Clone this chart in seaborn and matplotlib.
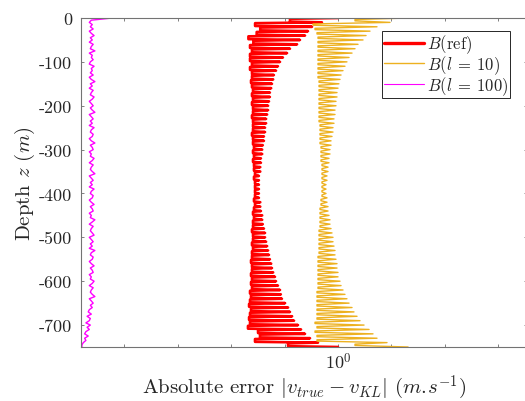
import numpy as np
import matplotlib
matplotlib.use('Agg')
import matplotlib.pyplot as plt
import seaborn as sns
from matplotlib.ticker import FixedLocator, FuncFormatter, NullLocator

# right-side turning points of the oscillation (one per 10 m), m/s
ref_hi = [1.0, 0.50, 0.326, 0.274, 0.241, 0.194, 0.171, 0.126, 0.111, 0.093,
          0.082, 0.075, 0.069, 0.063, 0.061, 0.058, 0.056, 0.053, 0.053, 0.051,
          0.049, 0.049, 0.047, 0.045, 0.045, 0.043, 0.043, 0.041, 0.041, 0.039,
          0.038, 0.038, 0.036, 0.036, 0.035, 0.035, 0.033, 0.033, 0.033, 0.033,
          0.033, 0.033, 0.035, 0.035, 0.036, 0.038, 0.038, 0.039, 0.041, 0.043,
          0.043, 0.045, 0.047, 0.049, 0.051, 0.053, 0.056, 0.058, 0.061, 0.066,
          0.069, 0.075, 0.082, 0.085, 0.089, 0.102, 0.116, 0.126, 0.138, 0.150,
          0.178, 0.203, 0.241, 0.299, 0.422, 1.0]
# left-side values between two peaks, m/s
ref_lo = [0.126, 0.028, 0.035, 0.030, 0.021, 0.026, 0.0225, 0.0245, 0.0225, 0.0225,
          0.0245, 0.0225, 0.0245, 0.0245, 0.0235, 0.0245, 0.0256, 0.0245, 0.0256, 0.0245,
          0.0256, 0.0256, 0.0245, 0.0256, 0.0256, 0.0256, 0.0245, 0.0256, 0.0256, 0.0267,
          0.0256, 0.0267, 0.0256, 0.0267, 0.0267, 0.0279, 0.0267, 0.0279, 0.0279, 0.0279,
          0.0279, 0.0267, 0.0279, 0.0267, 0.0256, 0.0267, 0.0256, 0.0256, 0.0245, 0.0256,
          0.0256, 0.0245, 0.0256, 0.0245, 0.0245, 0.0235, 0.0245, 0.0245, 0.0235, 0.0245,
          0.0235, 0.0245, 0.0225, 0.0235, 0.0225, 0.0216, 0.0235, 0.0225, 0.0216, 0.0225,
          0.0206, 0.0318, 0.0346, 0.0279, 0.116]

l10_hi = [20.5, 9.42, 5.37, 3.97, 3.35, 2.94, 2.37, 2.08, 1.83, 1.61,
          1.47, 1.35, 1.24, 1.14, 1.09, 1.04, 1.00, 0.958, 0.958, 0.917,
          0.917, 0.879, 0.879, 0.841, 0.841, 0.806, 0.806, 0.772, 0.740, 0.740,
          0.708, 0.708, 0.678, 0.678, 0.650, 0.650, 0.622, 0.622, 0.596, 0.596,
          0.596, 0.622, 0.622, 0.650, 0.650, 0.678, 0.708, 0.708, 0.740, 0.772,
          0.806, 0.806, 0.841, 0.879, 0.879, 0.917, 0.958, 0.958, 1.00, 1.00,
          1.09, 1.14, 1.24, 1.35, 1.47, 1.61, 1.83, 1.99, 2.27, 2.58,
          3.07, 3.81, 4.52, 5.37, 8.27, 20.5]
l10_lo = [2.08, 0.340, 0.371, 0.404, 0.422, 0.422, 0.422, 0.422, 0.422, 0.422,
          0.422, 0.422, 0.422, 0.422, 0.441, 0.441, 0.441, 0.441, 0.441, 0.441,
          0.441, 0.441, 0.441, 0.441, 0.460, 0.460, 0.460, 0.460, 0.460, 0.480,
          0.480, 0.480, 0.480, 0.501, 0.501, 0.501, 0.501, 0.501, 0.501, 0.501,
          0.501, 0.480, 0.480, 0.460, 0.460, 0.460, 0.460, 0.460, 0.441, 0.441,
          0.441, 0.441, 0.441, 0.441, 0.422, 0.422, 0.422, 0.422, 0.422, 0.422,
          0.422, 0.422, 0.404, 0.404, 0.404, 0.404, 0.404, 0.404, 0.404, 0.371,
          0.404, 0.371, 0.404, 0.404, 2.08]

# B(l=100) error, in units of 1e-5 m/s, top to bottom
l100_err = [5.9, 2.4, 2.2, 2.5, 2.3, 2.6, 2.2, 2.4, 2.7, 2.3, 2.5, 2.2, 2.6, 2.4, 2.3,
            2.8, 2.2, 2.5, 2.4, 2.6, 2.3, 2.2, 2.7, 2.4, 2.5, 2.3, 2.6, 2.2, 2.4, 2.8,
            2.3, 2.5, 2.2, 2.6, 2.4, 2.3, 2.7, 2.5, 2.2, 2.4, 2.6, 2.3, 2.5, 2.8, 2.2,
            2.4, 2.6, 2.3, 2.5, 2.2, 2.7, 2.4, 2.3, 2.6, 2.5, 2.2, 2.4, 2.8, 2.3, 2.5,
            2.6, 2.2, 2.4, 2.3, 2.7, 2.5, 2.2, 2.6, 2.4, 2.3, 2.5, 2.8, 2.2, 2.4, 2.6,
            2.3, 2.5, 2.2, 2.7, 2.4, 2.3, 2.6, 2.5, 2.2, 2.4, 2.7, 2.3, 2.5, 2.6, 2.2,
            2.4, 2.3, 2.8, 2.5, 2.2, 2.6, 2.4, 2.3, 2.5, 2.7, 2.2, 2.4, 2.6, 2.3, 2.5,
            2.2, 2.8, 2.4, 2.3, 2.6, 2.5, 2.2, 2.4, 2.7, 2.3, 2.5, 2.6, 2.2, 2.4, 2.3,
            2.7, 2.5, 2.2, 2.6, 2.4, 2.3, 2.5, 2.8, 2.2, 2.4, 2.6, 2.3, 2.5, 2.2, 2.1,
            2.4, 2.0, 2.3, 2.2, 1.9, 2.3, 2.0, 2.2, 1.9, 1.8, 2.1, 1.8, 1.9, 1.7, 1.6, 1.6]

depth_top, depth_bottom = 0, -750
ytick_vals = [0, -100, -200, -300, -400, -500, -600, -700]
series_labels = [r'$B(\mathrm{ref})$', r'$B(l\:=\:10)$', r'$B(l\:=\:100)$']


def spikes(hi, lo, half):
    # one excursion to the right per peak, left values in between
    step = (depth_top - depth_bottom) / (len(hi) - 1)
    xs, ds = [], []
    for j, h in enumerate(hi):
        dj = depth_top - j * step
        if j > 0:
            xs.append(lo[j - 1])
            ds.append(dj + half)
        xs.append(h)
        ds.append(dj)
        if j < len(lo):
            xs.append(lo[j])
            ds.append(dj - half)
    return np.array(xs), np.array(ds)


sns.set_style('ticks')
plt.rcParams['font.family'] = 'cmr10'
plt.rcParams['mathtext.fontset'] = 'cm'
plt.rcParams['axes.unicode_minus'] = False
plt.rcParams['axes.formatter.use_mathtext'] = True

fig = plt.figure(figsize=(5.25, 4.02), dpi=100)
ax = fig.add_axes([81/525, 1-348/402, 446/525, 329/402])

x, d = spikes(ref_hi, ref_lo, 1.8)
sns.lineplot(x=x, y=d, sort=False, estimator=None, color=(1, 0, 0), lw=1.9,
             label=series_labels[0], ax=ax)
x, d = spikes(l10_hi, l10_lo, 3.5)
sns.lineplot(x=x, y=d, sort=False, estimator=None, color=(0.929, 0.694, 0.125),
             lw=1.0, label=series_labels[1], ax=ax)
m_err = np.array(l100_err) * 1e-5
m_depth = np.linspace(depth_top, depth_bottom, len(m_err))
sns.lineplot(x=m_err, y=m_depth, sort=False, estimator=None, color=(1, 0, 1),
             lw=1.0, label=series_labels[2], ax=ax)

ax.set_xscale('log')
ax.set_xlim(10**-4.813, 10**3.539)
ax.set_ylim(depth_bottom, depth_top)
ax.xaxis.set_major_locator(FixedLocator(10.0**np.arange(-4, 4)))
ax.xaxis.set_minor_locator(NullLocator())
ax.xaxis.set_major_formatter(FuncFormatter(lambda v, p: r'$10^{0}$' if np.isclose(v, 1) else ''))
ax.set_yticks(ytick_vals)
ax.set_yticklabels([str(t) for t in ytick_vals])

ax.tick_params(direction='in', length=2.5, width=0.5, top=True, right=True,
               color='0.3', labelcolor='#262626', labelsize=13)
ax.tick_params(axis='y', pad=6.5)
ax.tick_params(axis='x', pad=3)
for sp in ax.spines.values():
    sp.set_color('0.45')
    sp.set_linewidth(0.8)

ax.set_xlabel(r'Absolute error $|v_{true} - v_{KL}|$ $(m.\!s^{-1})$', fontsize=15,
              color='#262626', labelpad=1)
ax.set_ylabel(r'Depth $z$ $(m)$', fontsize=15, color='#262626', labelpad=1)

leg = ax.legend(loc='upper left', bbox_to_anchor=(382/525, 1-32/402),
                bbox_transform=fig.transFigure, borderaxespad=0, fontsize=12,
                handlelength=2.4, handletextpad=0.2, labelspacing=-0.12,
                borderpad=0.1, fancybox=False, framealpha=1)
leg.get_frame().set_edgecolor('0.15')
leg.get_frame().set_linewidth(0.7)
for h, w in zip(leg.get_lines(), [2.4, 1.0, 0.8]):
    h.set_linewidth(w)

fig.savefig('out.png', dpi=100)
